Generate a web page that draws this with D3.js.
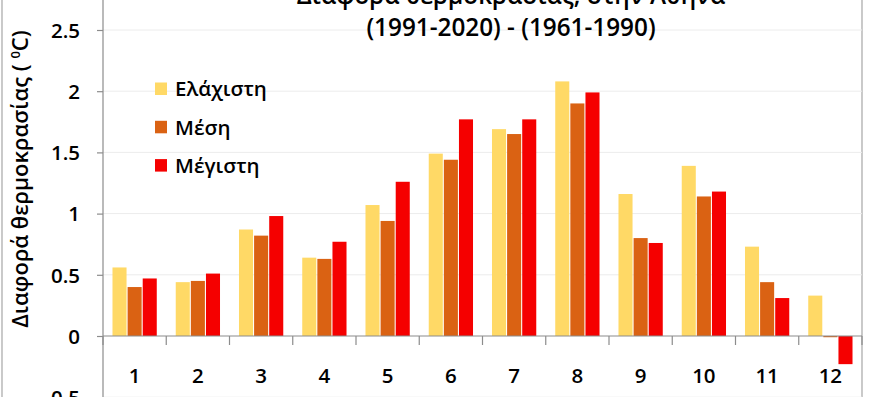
<!DOCTYPE html>
<html>
<head>
<meta charset="utf-8">
<script src="https://cdn.jsdelivr.net/npm/d3@7"></script>
<style>
  html, body { margin: 0; padding: 0; background: #fff; }
  svg { display: block; font-family: "Open Sans", "Noto Sans", sans-serif; }
</style>
</head>
<body>
<svg id="chart" width="896" height="397"></svg>
<script>
const months = ["1", "2", "3", "4", "5", "6", "7", "8", "9", "10", "11", "12"]
const seriesNames = ["Ελάχιστη", "Μέση", "Μέγιστη"]
const minDiff = [0.56, 0.44, 0.87, 0.64, 1.07, 1.49, 1.69, 2.08, 1.16, 1.39, 0.73, 0.33]
const meanDiff = [0.40, 0.45, 0.82, 0.63, 0.94, 1.44, 1.65, 1.90, 0.80, 1.14, 0.44, -0.01]
const maxDiff = [0.47, 0.51, 0.98, 0.77, 1.26, 1.77, 1.77, 1.99, 0.76, 1.18, 0.31, -0.23]
const yTicks = [-0.5, 0, 0.5, 1, 1.5, 2, 2.5, 3]
const titleLines = ["Διαφορά θερμοκρασίας, στην Αθήνα", "(1991-2020) - (1961-1990)"]
const colors = ["#FFD966", "#DA6213", "#F50000"]

const seriesValues = [minDiff, meanDiff, maxDiff]
const rows = months.map((m, i) => ({
    month: m,
    values: seriesNames.map((s, j) => ({ key: s, value: seriesValues[j][i] }))
}))

const svg = d3.select("#chart")
const left = 103, right = 862

const y = d3.scaleLinear().domain([-0.5, 3]).range([397.2, -31.2])
const x = d3.scaleBand().domain(months).range([left, right])
const bw = x.bandwidth()
const x1 = d3.scaleBand().domain(seriesNames).range([bw * 0.15, bw * 0.85]).paddingInner(0.07)
const color = d3.scaleOrdinal().domain(seriesNames).range(colors)

// chart area borders
svg.append("line").attr("x1", 2).attr("x2", 2).attr("y1", 0).attr("y2", 397)
    .attr("stroke", "#a6a6a6").attr("stroke-width", 1.2)
svg.append("line").attr("x1", right).attr("x2", right).attr("y1", 0).attr("y2", 397)
    .attr("stroke", "#a6a6a6").attr("stroke-width", 1.2)

// gridlines
svg.append("g")
    .selectAll("line")
    .data(yTicks.filter(d => d !== 0))
    .join("line")
    .attr("x1", left).attr("x2", right)
    .attr("y1", d => y(d)).attr("y2", d => y(d))
    .attr("stroke", "#ececec").attr("stroke-width", 1)

// bars
svg.append("g")
    .selectAll("g")
    .data(rows)
    .join("g")
    .attr("transform", d => `translate(${x(d.month)},0)`)
    .selectAll("rect")
    .data(d => d.values)
    .join("rect")
    .attr("x", d => x1(d.key))
    .attr("width", x1.bandwidth())
    .attr("y", d => y(Math.max(0, d.value)))
    .attr("height", d => Math.abs(y(d.value) - y(0)))
    .attr("fill", d => color(d.key))

// y axis
const yAxis = svg.append("g")
    .attr("transform", `translate(${left},0)`)
    .call(d3.axisLeft(y).tickValues(yTicks).tickSize(6).tickPadding(17).tickFormat(d3.format("")))
yAxis.select(".domain").remove()
svg.append("line").attr("x1", left).attr("x2", left).attr("y1", 0).attr("y2", 397)
    .attr("stroke", "#8c8c8c").attr("stroke-width", 1.2)
yAxis.selectAll(".tick line").attr("stroke", "#8c8c8c").attr("stroke-width", 1.2)
yAxis.selectAll(".tick text").attr("font-size", 20.5).attr("fill", "#000")
    .attr("font-family", "'Open Sans', sans-serif").attr("font-weight", 600)
    .attr("dy", "0.36em")

// x axis: ticks at band boundaries
const xAxis = svg.append("g").attr("transform", `translate(0,${y(0)})`)
xAxis.append("line").attr("x1", left).attr("x2", right)
    .attr("stroke", "#8c8c8c").attr("stroke-width", 1.2)
xAxis.selectAll(".bt")
    .data(months.map(m => x(m)).concat([right]))
    .join("line")
    .attr("class", "bt")
    .attr("x1", d => d).attr("x2", d => d)
    .attr("y1", 0).attr("y2", 9)
    .attr("stroke", "#8c8c8c").attr("stroke-width", 1.2)
xAxis.selectAll(".lbl")
    .data(months)
    .join("text")
    .attr("class", "lbl")
    .attr("x", d => x(d) + bw / 2)
    .attr("y", 47)
    .attr("text-anchor", "middle")
    .attr("font-size", 20.5).attr("font-weight", 600)
    .text(d => d)

// y axis title
svg.append("text")
    .attr("transform", "translate(27.5,179) rotate(-90)")
    .attr("text-anchor", "middle")
    .attr("font-size", 22).attr("font-weight", 600)
    .text("Διαφορά θερμοκρασίας ( ")
    .append("tspan").attr("font-size", 13).attr("dy", -8).text("0")
    .select(function () { return this.parentNode })
    .append("tspan").attr("dy", 8).text("C)")

// title
svg.append("g")
    .selectAll("text")
    .data(titleLines)
    .join("text")
    .attr("x", 511)
    .attr("y", (d, i) => 4 + i * 32)
    .attr("text-anchor", "middle")
    .attr("font-size", 24.3).attr("font-weight", 600)
    .text(d => d)

// legend
const legend = svg.append("g")
    .selectAll("g")
    .data(seriesNames)
    .join("g")
    .attr("transform", (d, i) => `translate(155,${89 + i * 38.3})`)
legend.append("rect")
    .attr("x", 0).attr("y", -6.5).attr("width", 12).attr("height", 12.5)
    .attr("fill", d => color(d))
legend.append("text")
    .attr("x", 20).attr("dy", "0.36em")
    .attr("font-size", 20.5).attr("font-weight", 600)
    .text(d => d)
</script>
</body>
</html>
